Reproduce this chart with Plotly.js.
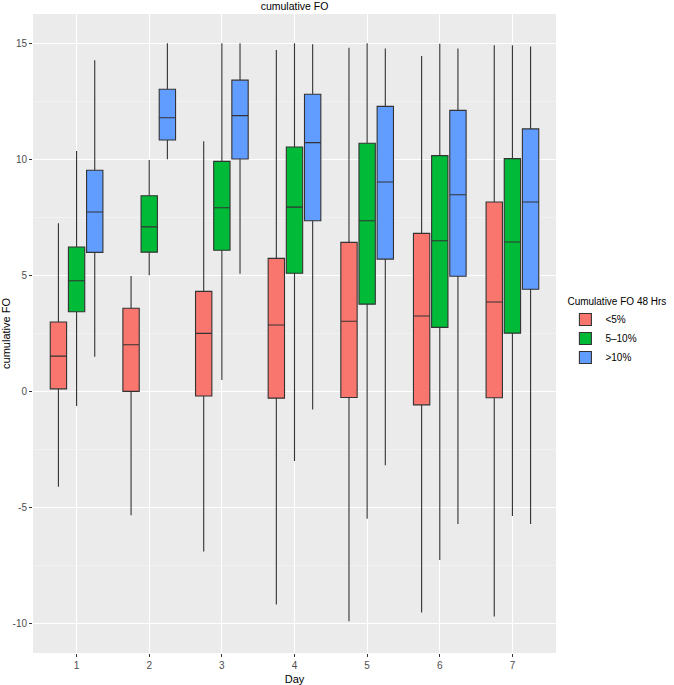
<!DOCTYPE html>
<html>
<head>
<meta charset="utf-8">
<script src="https://cdn.plot.ly/plotly-3.0.1.min.js"></script>
<style>html,body{margin:0;padding:0;background:#fff;}#chart{width:674px;height:685px;}</style>
</head>
<body>
<div id="chart"></div>
<script>
var days = ["1","2","3","4","5","6","7"];
var groupNames = ["<5%", "5\u201310%", ">10%"];
var groupColors = ["#F8766D", "#00BA38", "#619CFF"];

// <5%
var low_lower  = [-4.11, -5.34, -6.90, -9.18, -9.90, -9.53, -9.70];
var low_q1     = [0.11, 0.00, -0.20, -0.29, -0.26, -0.58, -0.27];
var low_median = [1.52, 2.01, 2.50, 2.86, 3.02, 3.25, 3.85];
var low_q3     = [2.99, 3.58, 4.31, 5.73, 6.42, 6.81, 8.16];
var low_upper  = [7.24, 4.97, 10.78, 14.71, 14.81, 14.45, 14.91];

// 5-10%
var mid_lower  = [-0.63, 5.00, 0.49, -3.00, -5.49, -7.26, -5.37];
var mid_q1     = [3.43, 6.00, 6.08, 5.09, 3.76, 2.76, 2.51];
var mid_median = [4.77, 7.09, 7.91, 7.94, 7.35, 6.49, 6.44];
var mid_q3     = [6.22, 8.43, 9.91, 10.53, 10.69, 10.16, 10.03];
var mid_upper  = [10.36, 9.97, 15.00, 15.00, 15.00, 14.98, 14.91];

// >10%
var high_lower  = [1.49, 10.00, 5.07, -0.78, -3.18, -5.71, -5.71];
var high_q1     = [5.99, 10.83, 10.01, 7.35, 5.70, 4.96, 4.40];
var high_median = [7.73, 11.79, 11.88, 10.72, 9.02, 8.47, 8.16];
var high_q3     = [9.53, 13.02, 13.41, 12.80, 12.28, 12.11, 11.31];
var high_upper  = [14.27, 15.00, 15.00, 14.96, 14.77, 14.77, 14.86];

var stats = [
  [low_lower, low_q1, low_median, low_q3, low_upper],
  [mid_lower, mid_q1, mid_median, mid_q3, mid_upper],
  [high_lower, high_q1, high_median, high_q3, high_upper]
];

var traces = stats.map(function(s, i) {
  return {
    type: "box",
    name: groupNames[i],
    x: days,
    lowerfence: s[0], q1: s[1], median: s[2], q3: s[3], upperfence: s[4],
    fillcolor: groupColors[i],
    line: {color: "#333333", width: 1.1},
    whiskerwidth: 0,
    boxpoints: false,
    hoverinfo: "y"
  };
});

var tickFont = {family: "Liberation Sans, Arial, sans-serif", size: 10, color: "#4D4D4D"};
var layout = {
  width: 674, height: 685,
  margin: {l: 33, r: 118, t: 14, b: 32, pad: 0, autoexpand: false},
  paper_bgcolor: "#FFFFFF",
  plot_bgcolor: "#EBEBEB",
  boxmode: "group",
  boxgap: 0.25,
  boxgroupgap: 0.1,
  font: {family: "Liberation Sans, Arial, sans-serif", size: 11, color: "#000"},
  title: {
    text: "cumulative FO",
    x: 0.437, xanchor: "center",
    y: 0.991, yanchor: "middle", yref: "container",
    font: {size: 10.5, color: "#000"}
  },
  xaxis: {
    type: "category",
    categoryorder: "array", categoryarray: days,
    range: [-0.6, 6.6],
    showgrid: true, gridcolor: "#FFFFFF", gridwidth: 1.1,
    zeroline: false,
    ticks: "outside", ticklen: 3, tickcolor: "#333333", tickwidth: 1,
    tickfont: tickFont,
    showline: false,
    automargin: false,
    title: {text: "Day", font: {size: 11, color: "#000"}, standoff: 6}
  },
  yaxis: {
    range: [-11.27, 16.26],
    tickvals: [-10, -5, 0, 5, 10, 15],
    ticktext: ["-10", "-5", "0", "5", "10", "15"],
    showgrid: true, gridcolor: "#FFFFFF", gridwidth: 1.1,
    minor: {tickvals: [-7.5, -2.5, 2.5, 7.5, 12.5], showgrid: true, gridcolor: "#F7F7F7", gridwidth: 0.6, ticks: ""},
    zeroline: false,
    ticks: "outside", ticklen: 3, tickcolor: "#333333", tickwidth: 1,
    tickfont: tickFont,
    showline: false,
    automargin: false,
    title: {text: "cumulative FO", font: {size: 11, color: "#000"}, standoff: 4}
  },
  showlegend: true,
  legend: {
    x: 1.018, xanchor: "left",
    y: 0.565, yanchor: "top",
    bgcolor: "rgba(0,0,0,0)",
    font: {size: 10, color: "#000"},
    title: {text: "Cumulative FO 48 Hrs", font: {size: 10, color: "#000"}},
    tracegroupgap: 0,
    itemwidth: 30
  }
};

Plotly.newPlot("chart", traces, layout, {displayModeBar: false, staticPlot: true});
</script>
</body>
</html>
